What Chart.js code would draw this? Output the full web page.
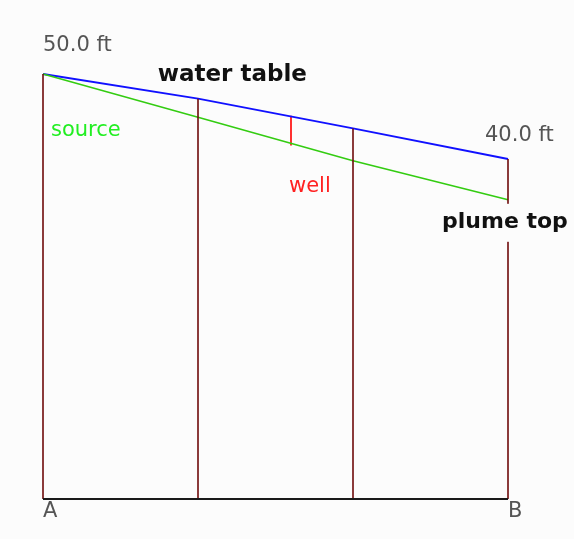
<!DOCTYPE html>
<html>
<head>
<meta charset="utf-8">
<script src="https://cdn.jsdelivr.net/npm/chart.js@4/dist/chart.umd.min.js"></script>
<style>
  html, body { margin: 0; padding: 0; background: #fcfcfc; }
  canvas { display: block; }
</style>
</head>
<body>
<canvas id="c" width="574" height="539"></canvas>
<script>
// Cross-section positions (A .. B) and their labels
const sectionX = [0, 1, 2, 3];
const sectionLabels = ['A', '', '', 'B'];
// Elevations in feet
const waterTable = [50.0, 47.1, 43.6, 40.0];
const plumeTop = [50.0, 44.9, 39.8, 35.2];
// Monitoring well
const wellX = [1.6];
const wellTop = [45.1];
const wellBottom = [41.6];
// Text labels
const lineNames = ['water table', 'plume top', 'source', 'well'];

const pts = (xs, ys) => xs.map((x, i) => ({ x: x, y: ys[i] }));

const datasets = [];
// ground base line
datasets.push({ data: [{ x: sectionX[0], y: 0 }, { x: sectionX[sectionX.length - 1], y: 0 }],
  borderColor: '#1a1a1a', borderWidth: 2 });
// vertical section lines
sectionX.forEach((x, i) => {
  datasets.push({ data: [{ x: x, y: 0 }, { x: x, y: waterTable[i] }],
    borderColor: '#6e0a0a', borderWidth: 1.6 });
});
// plume top
datasets.push({ data: pts(sectionX, plumeTop), borderColor: '#33cc11', borderWidth: 1.6 });
// water table
datasets.push({ data: pts(sectionX, waterTable), borderColor: '#1010ff', borderWidth: 1.8 });
// well
wellX.forEach((x, i) => {
  datasets.push({ data: [{ x: x, y: wellBottom[i] }, { x: x, y: wellTop[i] }],
    borderColor: '#ff1a1a', borderWidth: 1.8 });
});

const labelPlugin = {
  id: 'labels',
  afterDatasetsDraw(chart) {
    const ctx = chart.ctx;
    const xs = chart.scales.x, ys = chart.scales.y;
    const n = sectionX.length - 1;
    const txt = (s, x, y, font, color, bg) => {
      ctx.save();
      ctx.font = font;
      ctx.textAlign = 'left';
      ctx.textBaseline = 'alphabetic';
      if (bg) {
        const w = ctx.measureText(s).width;
        ctx.fillStyle = bg;
        ctx.fillRect(x - 3, y - 24, w + 6, 38);
      }
      ctx.fillStyle = color;
      ctx.fillText(s, x, y);
      ctx.restore();
    };
    const reg = '21px "DejaVu Sans"';
    // elevation labels
    txt(waterTable[0].toFixed(1) + ' ft', xs.getPixelForValue(sectionX[0]), ys.getPixelForValue(waterTable[0]) - 23, reg, '#555555');
    txt(waterTable[n].toFixed(1) + ' ft', xs.getPixelForValue(sectionX[n]) - 23, ys.getPixelForValue(waterTable[n]) - 18, reg, '#555555');
    // line names
    txt(lineNames[0], xs.getPixelForValue(0.74), ys.getPixelForValue(waterTable[0]) + 7, 'bold 23px "DejaVu Sans"', '#111111');
    txt(lineNames[1], xs.getPixelForValue(sectionX[n]) - 66, ys.getPixelForValue(plumeTop[n]) + 28, 'bold 22px "DejaVu Sans"', '#111111', '#fcfcfc');
    txt(lineNames[2], xs.getPixelForValue(sectionX[0]) + 8, ys.getPixelForValue(plumeTop[0]) + 62, reg, '#22ee22');
    txt(lineNames[3], xs.getPixelForValue(wellX[0]) - 2, ys.getPixelForValue(wellBottom[0]) + 47, reg, '#ff2222');
    // section labels
    sectionLabels.forEach((s, i) => {
      if (s) txt(s, xs.getPixelForValue(sectionX[i]), ys.getPixelForValue(0) + 18, reg, '#555555');
    });
  }
};

new Chart(document.getElementById('c'), {
  type: 'line',
  data: { datasets: datasets },
  options: {
    responsive: false,
    animation: false,
    devicePixelRatio: 1,
    layout: { padding: { left: 43, right: 66, top: 74, bottom: 40 } },
    elements: { point: { radius: 0, hoverRadius: 0 }, line: { tension: 0 } },
    datasets: { line: { clip: false, fill: false } },
    plugins: { legend: { display: false }, tooltip: { enabled: false } },
    scales: {
      x: { type: 'linear', min: 0, max: 3, display: false },
      y: { type: 'linear', min: 0, max: 50, display: false }
    }
  },
  plugins: [labelPlugin]
});
</script>
</body>
</html>
